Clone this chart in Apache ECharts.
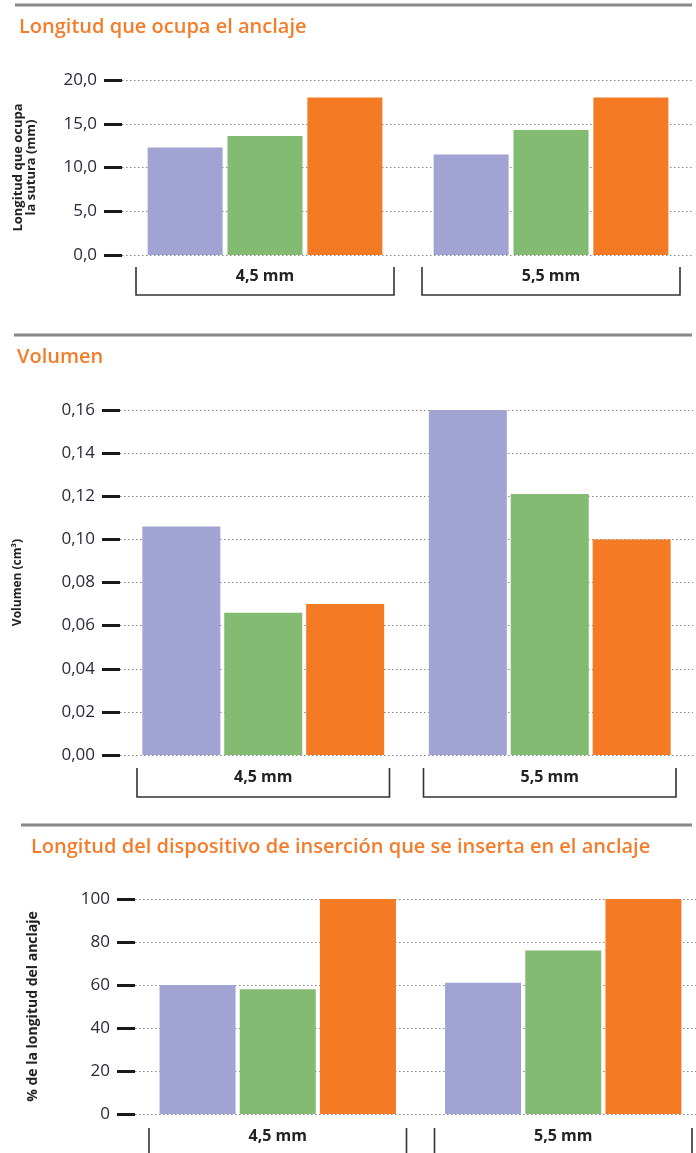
<!DOCTYPE html>
<html>
<head>
<meta charset="utf-8">
<script src="https://cdn.jsdelivr.net/npm/echarts@6/dist/echarts.min.js"></script>
<style>
  html, body { margin: 0; padding: 0; background: #fff; }
  #chart { width: 696px; height: 1153px; }
</style>
</head>
<body>
<div id="chart"></div>
<script>
// anchor sizes (categories)
const groups = ['4,5 mm', '5,5 mm'];

// Longitud que ocupa la sutura (mm)
const lenPurple = [12.3, 11.5];
const lenGreen = [13.6, 14.3];
const lenOrange = [18.0, 18.0];

// Volumen (cm3)
const volPurple = [0.106, 0.161];
const volGreen = [0.066, 0.121];
const volOrange = [0.070, 0.100];

// % de la longitud del anclaje
const insPurple = [60, 61];
const insGreen = [58, 76];
const insOrange = [100, 100];

const PURPLE = '#a1a4d2';
const GREEN = '#84bb73';
const ORANGE = '#f47a24';
const TITLE = '#f47d2c';
const FONT = '"Open Sans", sans-serif';

const chart = echarts.init(document.getElementById('chart'));

// bracket under each category, drawn through the category axis
function bracket(top, depth, inset, withBottom) {
  return function (params, api) {
    const c = api.coord([api.value(0), 0]);
    const w = api.size([1, 0])[0];
    const x0 = c[0] - w / 2 + inset;
    const x1 = c[0] + w / 2 - inset;
    const y0 = c[1] + top;
    const y1 = y0 + depth;
    const style = { stroke: '#333', lineWidth: 1.6, fill: null };
    if (withBottom) {
      return { type: 'polyline', shape: { points: [[x0, y0], [x0, y1], [x1, y1], [x1, y0]] }, style: style };
    }
    return {
      type: 'group',
      children: [
        { type: 'line', shape: { x1: x0, y1: y0, x2: x0, y2: y1 }, style: style },
        { type: 'line', shape: { x1: x1, y1: y0, x2: x1, y2: y1 }, style: style }
      ]
    };
  };
}

function yAxis(idx, max, interval, digits, name, nameGap, nameSize) {
  return {
    gridIndex: idx,
    type: 'value',
    min: 0,
    max: max,
    interval: interval,
    name: name,
    nameLocation: 'middle',
    nameRotate: 90,
    nameGap: nameGap,
    nameTextStyle: { color: '#222', fontSize: nameSize, fontWeight: 'bold', fontFamily: FONT, lineHeight: nameSize },
    axisLine: { show: false },
    axisTick: { show: true, length: 18, lineStyle: { color: '#1a1a1a', width: 3 } },
    axisLabel: {
      margin: 25,
      color: '#2a2a3a',
      fontSize: 17,
      fontFamily: FONT,
      formatter: v => v.toFixed(digits).replace('.', ',')
    },
    splitLine: { show: true, lineStyle: { color: '#888', type: [1.5, 2.5], width: 1 } }
  };
}

function xAxis(idx, margin) {
  return {
    gridIndex: idx,
    type: 'category',
    data: groups,
    axisLine: { show: false },
    axisTick: { show: false },
    axisLabel: { margin: margin, color: '#222', fontSize: 16, fontWeight: 'bold', fontFamily: FONT }
  };
}

function bars(idx, values, color, width, gap, catGap) {
  return {
    type: 'bar',
    xAxisIndex: idx,
    yAxisIndex: idx,
    data: values,
    barWidth: width,
    barGap: gap,
    barCategoryGap: catGap,
    itemStyle: { color: color },
    silent: true
  };
}

function brackets(idx, top, depth, inset, withBottom) {
  return {
    type: 'custom',
    xAxisIndex: idx,
    yAxisIndex: idx,
    clip: false,
    silent: true,
    encode: { x: 0, y: 1 },
    data: groups.map((g, i) => [i, 0]),
    renderItem: bracket(top, depth, inset, withBottom)
  };
}

const titleStyle = { color: TITLE, fontSize: 20, fontWeight: 600, fontFamily: FONT };

const option = {
  animation: false,
  backgroundColor: '#fff',
  title: [
    { text: 'Longitud que ocupa el anclaje', left: 14, top: 12, textStyle: titleStyle },
    { text: 'Volumen', left: 12, top: 342, textStyle: titleStyle },
    { text: 'Longitud del dispositivo de inserción que se inserta en el anclaje', left: 26, top: 832, textStyle: titleStyle }
  ],
  graphic: [
    { type: 'line', shape: { x1: 15, y1: 5, x2: 692, y2: 5 }, style: { stroke: '#888', lineWidth: 3 } },
    { type: 'line', shape: { x1: 14, y1: 335, x2: 692, y2: 335 }, style: { stroke: '#888', lineWidth: 3 } },
    { type: 'line', shape: { x1: 21, y1: 825, x2: 692, y2: 825 }, style: { stroke: '#888', lineWidth: 3 } }
  ],
  grid: [
    { left: 122, width: 572, top: 80, height: 175, outerBoundsMode: 'none' },
    { left: 120, width: 573, top: 410, height: 345, outerBoundsMode: 'none' },
    { left: 135, width: 571, top: 899, height: 215, outerBoundsMode: 'none' }
  ],
  xAxis: [xAxis(0, 13), xAxis(1, 14), xAxis(2, 14)],
  yAxis: [
    yAxis(0, 20, 5, 1, 'Longitud que ocupa\nla sutura (mm)', 84, 13),
    yAxis(1, 0.16, 0.02, 2, 'Volumen (cm³)', 96, 12),
    yAxis(2, 100, 20, 0, '% de la longitud del anclaje', 95, 14)
  ],
  series: [
    bars(0, lenPurple, PURPLE, 75, '6.5%', '17%'),
    bars(0, lenGreen, GREEN, 75, '6.5%', '17%'),
    bars(0, lenOrange, ORANGE, 75, '6.5%', '17%'),
    brackets(0, 12, 28, 14, true),
    bars(1, volPurple, PURPLE, 78, '5%', '15%'),
    bars(1, volGreen, GREEN, 78, '5%', '15%'),
    bars(1, volOrange, ORANGE, 78, '5%', '15%'),
    brackets(1, 13, 29, 17, true),
    bars(2, insPurple, PURPLE, 76, '5.5%', '16%'),
    bars(2, insGreen, GREEN, 76, '5.5%', '16%'),
    bars(2, insOrange, ORANGE, 76, '5.5%', '16%'),
    brackets(2, 14, 40, 14, false)
  ]
};

chart.setOption(option);
</script>
</body>
</html>
